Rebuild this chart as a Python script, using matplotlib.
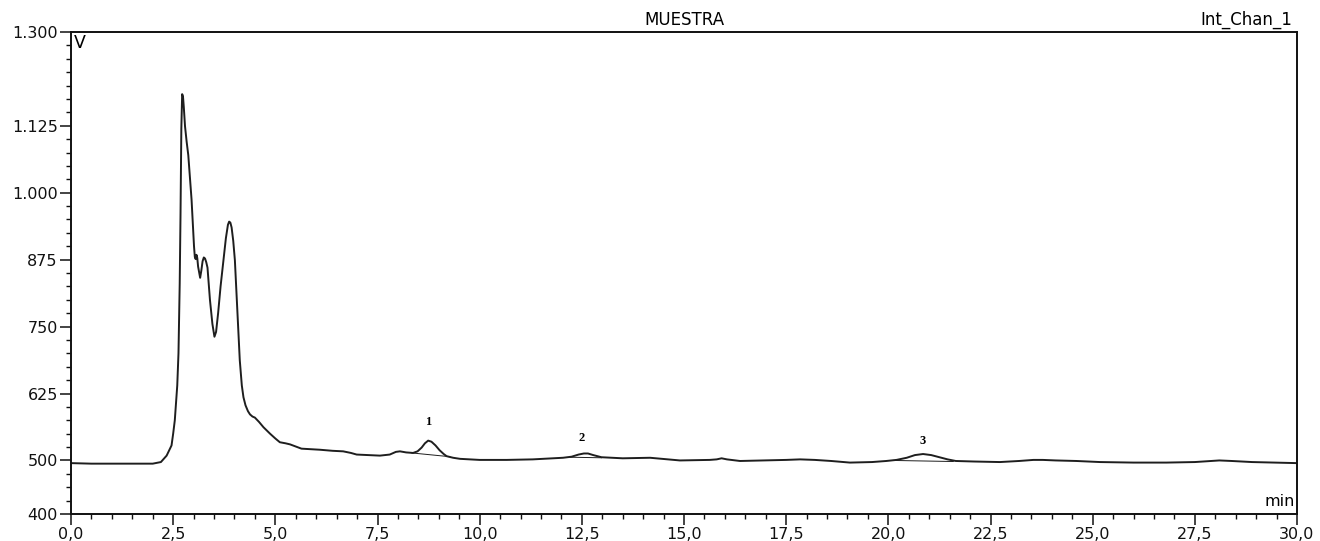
import matplotlib
matplotlib.use("Agg")
import matplotlib.pyplot as plt
from matplotlib.ticker import MultipleLocator

# ---- data ----
time_min = [0.0, 0.5, 1.0, 1.5, 2.0, 2.2, 2.34, 2.46, 2.50, 2.54, 2.60, 2.63, 2.66,
            2.68, 2.70, 2.72, 2.74, 2.76, 2.79, 2.83, 2.87, 2.95, 3.01, 3.03, 3.05,
            3.07, 3.09, 3.11, 3.16, 3.19, 3.22, 3.25, 3.28, 3.31, 3.34, 3.40, 3.46,
            3.51, 3.55, 3.60, 3.66, 3.73, 3.79, 3.84, 3.87, 3.90, 3.93, 3.97, 4.01,
            4.07, 4.13, 4.18, 4.22, 4.27, 4.33, 4.38, 4.44, 4.50, 4.60, 4.71, 4.87,
            5.00, 5.11, 5.25, 5.36, 5.50, 5.64, 5.85, 6.09, 6.40, 6.66, 6.85, 6.99,
            7.30, 7.56, 7.80, 7.95, 8.05, 8.20, 8.37, 8.48, 8.58, 8.66, 8.74, 8.82,
            8.92, 9.02, 9.12, 9.19, 9.35, 9.52, 10.0, 10.66, 11.3, 12.04, 12.25,
            12.42, 12.55, 12.65, 12.78, 12.98, 13.5, 14.17, 14.9, 15.63, 15.80,
            15.92, 16.05, 16.37, 17.0, 17.5, 17.84, 18.2, 18.6, 19.06, 19.6, 19.95,
            20.2, 20.45, 20.65, 20.85, 21.05, 21.25, 21.45, 21.65, 22.1, 22.73, 23.2,
            23.55, 23.78, 24.1, 24.6, 25.18, 26.0, 26.8, 27.5, 27.9, 28.1, 28.4,
            28.9, 29.4, 30.0]
signal_mv = [495, 494, 494, 494, 494, 497, 509, 528, 550, 575, 640, 700, 830,
             960, 1120, 1184, 1180, 1160, 1124, 1095, 1070, 987, 900, 880, 876,
             884, 878, 862, 841, 855, 872, 879, 877, 870, 860, 800, 755,
             731, 740, 775, 825, 874, 915, 940, 946, 944, 935, 910, 874,
             781, 687, 640, 618, 603, 592, 586, 582, 580, 572, 562, 550,
             541, 534, 532, 530, 526, 522, 521, 520, 518, 517, 514, 511,
             510, 509, 511, 516, 517, 515, 514, 517, 524, 532, 537, 535,
             528, 519, 512, 508, 505, 503, 501, 501, 502, 505, 507,
             511, 513, 513, 510, 506, 504, 505, 500, 501, 502,
             504, 502, 499, 500, 501, 502, 501, 499, 496, 497, 499,
             501, 505, 510, 512, 510, 506, 502, 499, 498, 497, 499,
             501, 501, 500, 499, 497, 496, 496, 497, 499, 500, 499,
             497, 496, 495]

# integration baselines under the numbered peaks
base_t = [(8.34, 9.27), (12.21, 12.98), (20.12, 21.59)]
base_v = [(514, 507), (506, 505), (500, 498)]

peak_labels = ["1", "2", "3"]
peak_label_t = [8.74, 12.5, 20.84]
peak_label_v = [572, 541, 537]

x_ticks = [0.0, 2.5, 5.0, 7.5, 10.0, 12.5, 15.0, 17.5, 20.0, 22.5, 25.0, 27.5, 30.0]
x_tick_labels = ["0,0", "2,5", "5,0", "7,5", "10,0", "12,5", "15,0", "17,5",
                 "20,0", "22,5", "25,0", "27,5", "30,0"]
y_ticks = [400, 500, 625, 750, 875, 1000, 1125, 1300]
y_tick_labels = ["400", "500", "625", "750", "875", "1.000", "1.125", "1.300"]

# ---- plot ----
plt.rcParams['font.family'] = ['DejaVu Sans']
fig = plt.figure(figsize=(13.2, 5.41), dpi=100)
ax = fig.add_axes([71/1320, 1-514/541, (1297-71)/1320, (514-32)/541])

ax.plot(time_min, signal_mv, color="#1e1e1e", lw=1.4, solid_joinstyle="round")
for (t0, t1), (v0, v1) in zip(base_t, base_v):
    ax.plot([t0, t1], [v0, v1], color="#1e1e1e", lw=0.7)

for lab, t, v in zip(peak_labels, peak_label_t, peak_label_v):
    ax.text(t, v, lab, ha="center", va="center", fontsize=9, fontweight="bold",
            family="Liberation Serif")

ax.set_xlim(0, 30)
ax.set_ylim(400, 1300)
ax.set_xticks(x_ticks)
ax.set_xticklabels(x_tick_labels)
ax.set_yticks(y_ticks)
ax.set_yticklabels(y_tick_labels)
ax.xaxis.set_minor_locator(MultipleLocator(0.5))
ax.yaxis.set_minor_locator(MultipleLocator(25))
ax.tick_params(which="major", direction="out", length=8, width=1.1, labelsize=11.5,
               colors="#111111", pad=1.5)
ax.tick_params(which="minor", direction="out", length=3.5, width=1.0, colors="#111111")
for s in ax.spines.values():
    s.set_linewidth(1.4)
    s.set_color("#111111")

ax.text(0.5, 1.006, "MUESTRA", transform=ax.transAxes, ha="center", va="bottom",
        fontsize=12)
ax.text(0.996, 1.006, "Int_Chan_1", transform=ax.transAxes, ha="right", va="bottom",
        fontsize=12)
ax.text(0.002, 0.995, "V", transform=ax.transAxes, ha="left", va="top", fontsize=12.5)
ax.text(0.998, 0.01, "min", transform=ax.transAxes, ha="right", va="bottom",
        fontsize=11.5)

fig.savefig("out.png", dpi=100)
